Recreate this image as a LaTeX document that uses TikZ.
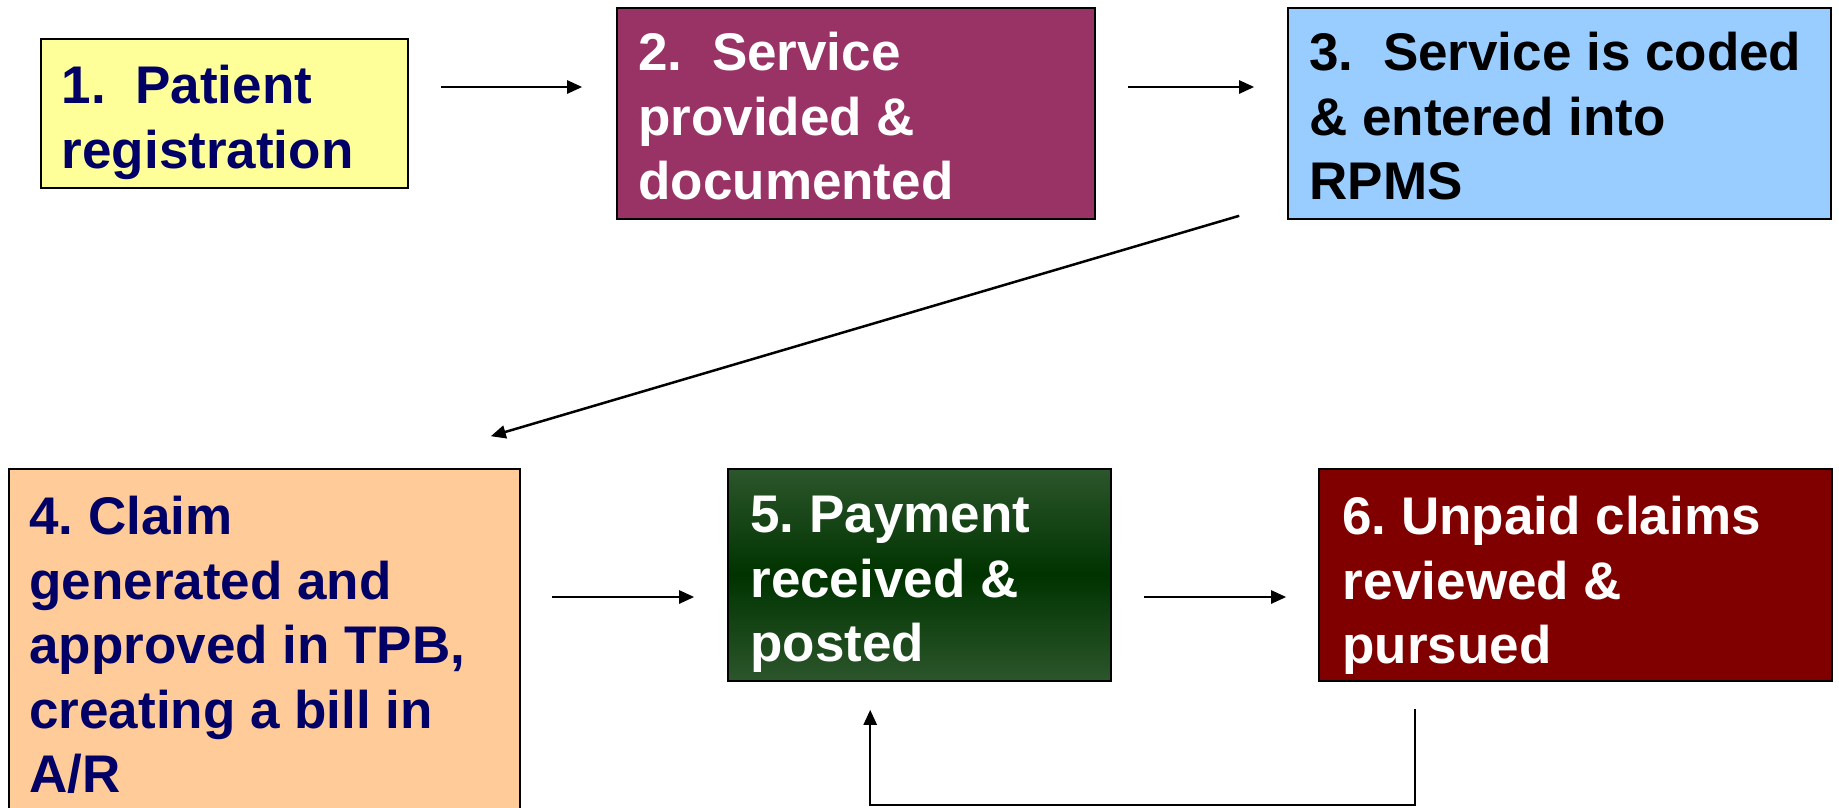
\documentclass[tikz,border=0pt]{standalone}
\usepackage{fontspec}
\setmainfont{Liberation Sans}
\usetikzlibrary{arrows.meta}
\frenchspacing
\definecolor{navy}{RGB}{0,0,102}
\definecolor{paleyellow}{RGB}{255,255,153}
\definecolor{plum}{RGB}{153,51,102}
\definecolor{skyblue}{RGB}{153,204,255}
\definecolor{peach}{RGB}{255,204,153}
\definecolor{darkgreen}{RGB}{0,51,0}
\definecolor{mossgreen}{RGB}{44,86,44}
\definecolor{maroon}{RGB}{128,0,0}
\begin{document}
\begin{tikzpicture}[x=1pt,y=-1pt,
  box/.style={draw=black, line width=1.6pt, inner sep=0pt},
  txt/.style={anchor=north west, inner sep=0pt, align=left,
    font=\fontsize{53}{64.5}\selectfont\bfseries},
  arr/.style={draw=black, line width=2.5pt,
    -{Triangle[length=15pt,width=13pt]}}]

\useasboundingbox (0,0) rectangle (1839,807);
\fill[white] (0,0) rectangle (1839,807);
\clip (0,0) rectangle (1839,807);

% top row
\node[box, fill=paleyellow, minimum width=367pt, minimum height=149pt] (b1) at (224.5,113.5) {};
\node[box, fill=plum, minimum width=478pt, minimum height=211pt] (b2) at (856,113.5) {};
\node[box, fill=skyblue, minimum width=543pt, minimum height=211pt] (b3) at (1559.5,113.5) {};

% bottom row (step 4 runs past the lower edge)
\node[box, fill=peach, minimum width=511pt, minimum height=381pt] (b4) at (264.5,659.5) {};
\node[box, minimum width=383pt, minimum height=212pt,
  top color=mossgreen, bottom color=mossgreen, middle color=darkgreen] (b5) at (919.5,575) {};
\node[box, fill=maroon, minimum width=513pt, minimum height=212pt] (b6) at (1575.5,575) {};

% labels
\node[txt, text=navy] (t1) at ([shift={(21.5,27)}]b1.north west) {1.\ \ Patient\\registration};
\node[txt, text=white] (t2) at ([shift={(22,25)}]b2.north west) {2.\ \ Service\\provided \&\\documented};
\node[txt, text=black] (t3) at ([shift={(22,25)}]b3.north west) {3.\ \ Service is coded\\\& entered into\\RPMS};
\node[txt, text=navy] (t4) at ([shift={(21,28)}]b4.north west) {4. Claim\\generated and\\approved in TPB,\\creating a bill in\\A/R};
\node[txt, text=white] (t5) at ([shift={(23,28)}]b5.north west) {5. Payment\\received \&\\posted};
\node[txt, text=white] (t6) at ([shift={(24,28)}]b6.north west) {6. Unpaid claims\\reviewed \&\\pursued};

% connectors
\draw[arr] ([shift={(32,-26.5)}]b1.east) -- ([shift={(-34,-26.5)}]b2.west);
\draw[arr] ([shift={(32,-26.5)}]b2.east) -- ([shift={(-33,-26.5)}]b3.west);
\draw[arr] ([shift={(-48,-4)}]b3.south west) -- ([shift={(-30,-32)}]b4.north east);
\draw[arr] ([shift={(31,22)}]b5.west -| b4.east) -- ([shift={(-33,22)}]b5.west);
\draw[arr] ([shift={(32,22)}]b5.east) -- ([shift={(-32,22)}]b6.west);
\draw[arr] ([shift={(97,27)}]b6.south west) -- ([shift={(97,0)}]b6.south west |- 0,805)
  -- ([shift={(143,0)}]b5.south west |- 0,805) -- ([shift={(143,28)}]b5.south west);
\end{tikzpicture}
\end{document}
